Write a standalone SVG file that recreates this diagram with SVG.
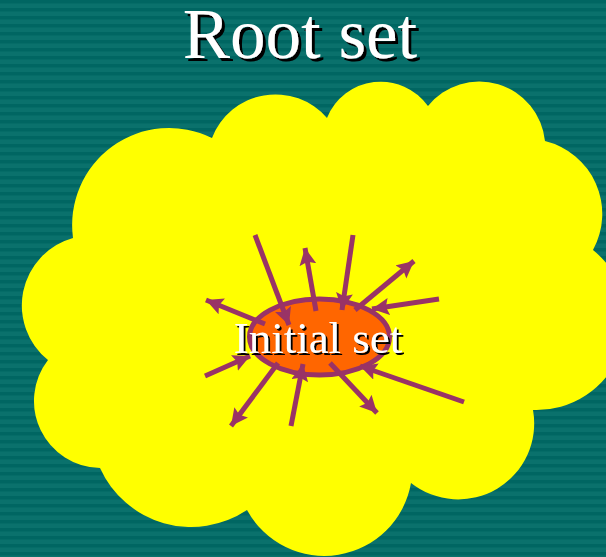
<svg xmlns="http://www.w3.org/2000/svg" width="606" height="557" viewBox="0 0 606 557">
<style>
.ttl{font-family:"Liberation Serif","Times New Roman",serif;font-size:71px;text-anchor:middle;fill:#FFFFFF;filter:url(#shadow3)}
.lbl{font-family:"Liberation Serif","Times New Roman",serif;font-size:45px;text-anchor:middle;fill:#FFFFFF;filter:url(#shadow2)}
.arr{stroke:#993366;stroke-width:5;fill:none;marker-end:url(#ah)}
</style>
<defs>
<pattern id="stripes" width="8" height="8" patternUnits="userSpaceOnUse">
<rect width="8" height="8" fill="#0A716C"/>
<rect width="8" height="3.5" fill="#006662"/>
</pattern>
<filter id="shadow3" x="-10%" y="-20%" width="120%" height="140%">
<feOffset in="SourceAlpha" dx="3" dy="3" result="o"/>
<feFlood flood-color="#000000"/>
<feComposite in2="o" operator="in" result="s"/>
<feMerge><feMergeNode in="s"/><feMergeNode in="SourceGraphic"/></feMerge>
</filter>
<filter id="shadow2" x="-10%" y="-20%" width="120%" height="140%">
<feOffset in="SourceAlpha" dx="2" dy="2" result="o"/>
<feFlood flood-color="#000000"/>
<feComposite in2="o" operator="in" result="s"/>
<feMerge><feMergeNode in="s"/><feMergeNode in="SourceGraphic"/></feMerge>
</filter>
<marker id="ah" markerUnits="userSpaceOnUse" markerWidth="20" markerHeight="18" refX="17" refY="8.5" orient="auto" viewBox="0 0 20 18">
<path d="M0,0 L17,8.5 L0,17 L3,8.5 Z" fill="#993366"/>
</marker>
</defs>
<rect width="606" height="557" fill="url(#stripes)"/>
<g id="title">
<text class="ttl" x="300" y="58">Root set</text>
</g>
<g id="root-set">
<path d="M73,238 A97,97 0 0 1 212,138 A68,68 0 0 1 327,118 A58,58 0 0 1 428,106 A66,66 0 0 1 545,141 A75,75 0 0 1 593,250 A90,90 0 0 1 533,410 A76,76 0 0 1 411,483 A88,88 0 0 1 247,510 A100,100 0 0 1 100,468 A67,67 0 0 1 48,360 A70,70 0 0 1 73,238 Z" fill="#FFFF00"/>
</g>
<g id="initial-set-shape">
<ellipse cx="319.5" cy="337" rx="70" ry="38" fill="#FF6600" stroke="#993366" stroke-width="5"/>
</g>
<g id="connectors">
<line class="arr" x1="255" y1="235" x2="289" y2="325"/>
<line class="arr" x1="316" y1="311" x2="305" y2="248"/>
<line class="arr" x1="353" y1="235" x2="342" y2="310"/>
<line class="arr" x1="355" y1="310" x2="414" y2="261"/>
<line class="arr" x1="439" y1="299" x2="372" y2="309"/>
<line class="arr" x1="265" y1="324" x2="206" y2="300"/>
<line class="arr" x1="205" y1="376" x2="250" y2="356"/>
<line class="arr" x1="278" y1="363" x2="231" y2="426"/>
<line class="arr" x1="291" y1="426" x2="303" y2="364"/>
<line class="arr" x1="330" y1="363" x2="377" y2="413"/>
<line class="arr" x1="464" y1="402" x2="360" y2="366"/>
</g>
<g id="initial-set">
<text class="lbl" x="318" y="353">Initial set</text>
</g>
</svg>
